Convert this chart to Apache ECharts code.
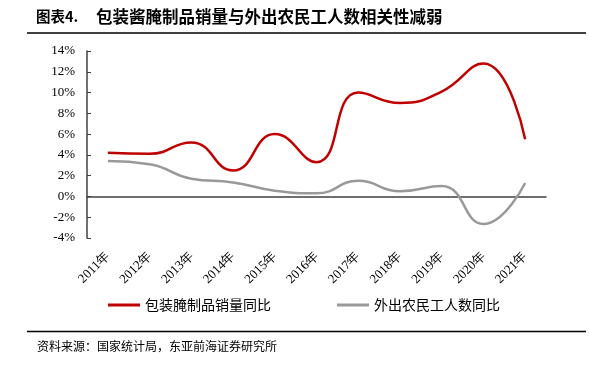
<!DOCTYPE html>
<html>
<head>
<meta charset="utf-8">
<script src="https://cdn.jsdelivr.net/npm/echarts@6/dist/echarts.min.js"></script>
<style>
  html, body { margin: 0; padding: 0; background: #fff; }
  #show_picture { width: 589px; height: 369px; }
</style>
</head>
<body>
<div id="show_picture"></div>
<script>
// 数据
const years = ['2011年', '2012年', '2013年', '2014年', '2015年', '2016年', '2017年', '2018年', '2019年', '2020年', '2021年'];
const picklesYoY = [4.2, 4.1, 5.2, 2.5, 6.0, 3.3, 10.0, 9.0, 10.1, 12.8, 5.5];
const migrantYoY = [3.4, 3.1, 1.7, 1.35, 0.55, 0.3, 1.5, 0.5, 1.0, -2.65, 1.3];
const yTicks = { min: -4, max: 14, step: 2 };

let myChart = echarts.init(document.getElementById('show_picture'));
const cjk = '"Noto Sans CJK SC", sans-serif';
const serif = '"Liberation Serif", "Times New Roman", serif';

let option = {
    animation: false,
    backgroundColor: '#fff',
    graphic: [
        {
            type: 'text', left: 36, top: 9,
            style: { text: '图表4.', font: 'bold 14.5px ' + cjk, fill: '#000' }
        },
        {
            type: 'text', left: 96, top: 8,
            style: { text: '包装酱腌制品销量与外出农民工人数相关性减弱', font: 'bold 16.5px ' + cjk, fill: '#000' }
        },
        {
            type: 'line', shape: { x1: 27, y1: 33, x2: 586, y2: 33 },
            style: { stroke: '#000', lineWidth: 1.5 }
        },
        {
            type: 'line', shape: { x1: 27, y1: 331.5, x2: 586, y2: 331.5 },
            style: { stroke: '#000', lineWidth: 1.5 }
        },
        {
            type: 'text', left: 37, top: 340,
            style: { text: '资料来源：国家统计局，东亚前海证券研究所', font: '12px ' + cjk, fill: '#000' }
        }
    ],
    legend: {
        top: 298,
        left: 108,
        padding: 0,
        itemGap: 66,
        itemWidth: 32,
        itemHeight: 3,
        icon: 'rect',
        textStyle: { fontFamily: cjk, fontSize: 14, color: '#000' },
        data: ['包装腌制品销量同比', '外出农民工人数同比']
    },
    grid: { left: 87, right: 43, top: 51, bottom: 131 },
    xAxis: [
        {
            type: 'category',
            data: years,
            boundaryGap: true,
            axisLine: { onZero: true, lineStyle: { color: '#404040', width: 1.5 } },
            axisTick: { inside: true, length: 4, lineStyle: { color: '#404040' } },
            axisLabel: { show: false }
        },
        {
            type: 'category',
            data: years,
            position: 'bottom',
            boundaryGap: true,
            axisLine: { show: false, onZero: false },
            axisTick: { show: false },
            axisLabel: {
                interval: 0, rotate: 45, margin: 16,
                fontFamily: serif, fontSize: 13, color: '#000'
            }
        }
    ],
    yAxis: {
        type: 'value',
        min: yTicks.min,
        max: yTicks.max,
        interval: yTicks.step,
        axisLine: { show: true, lineStyle: { color: '#404040', width: 1.5 } },
        axisTick: { show: true, inside: true, length: 4, lineStyle: { color: '#404040' } },
        splitLine: { show: false },
        axisLabel: {
            formatter: '{value}%', margin: 12,
            fontFamily: serif, fontSize: 13, color: '#000'
        }
    },
    series: [
        {
            name: '包装腌制品销量同比',
            type: 'line',
            data: picklesYoY,
            smooth: 0.5,
            symbol: 'none',
            lineStyle: { color: '#C00000', width: 2.5 },
            itemStyle: { color: '#C00000' }
        },
        {
            name: '外出农民工人数同比',
            type: 'line',
            data: migrantYoY,
            smooth: 0.5,
            symbol: 'none',
            lineStyle: { color: '#999999', width: 2.5 },
            itemStyle: { color: '#999999' }
        }
    ]
};

option && myChart.setOption(option);
</script>
</body>
</html>
